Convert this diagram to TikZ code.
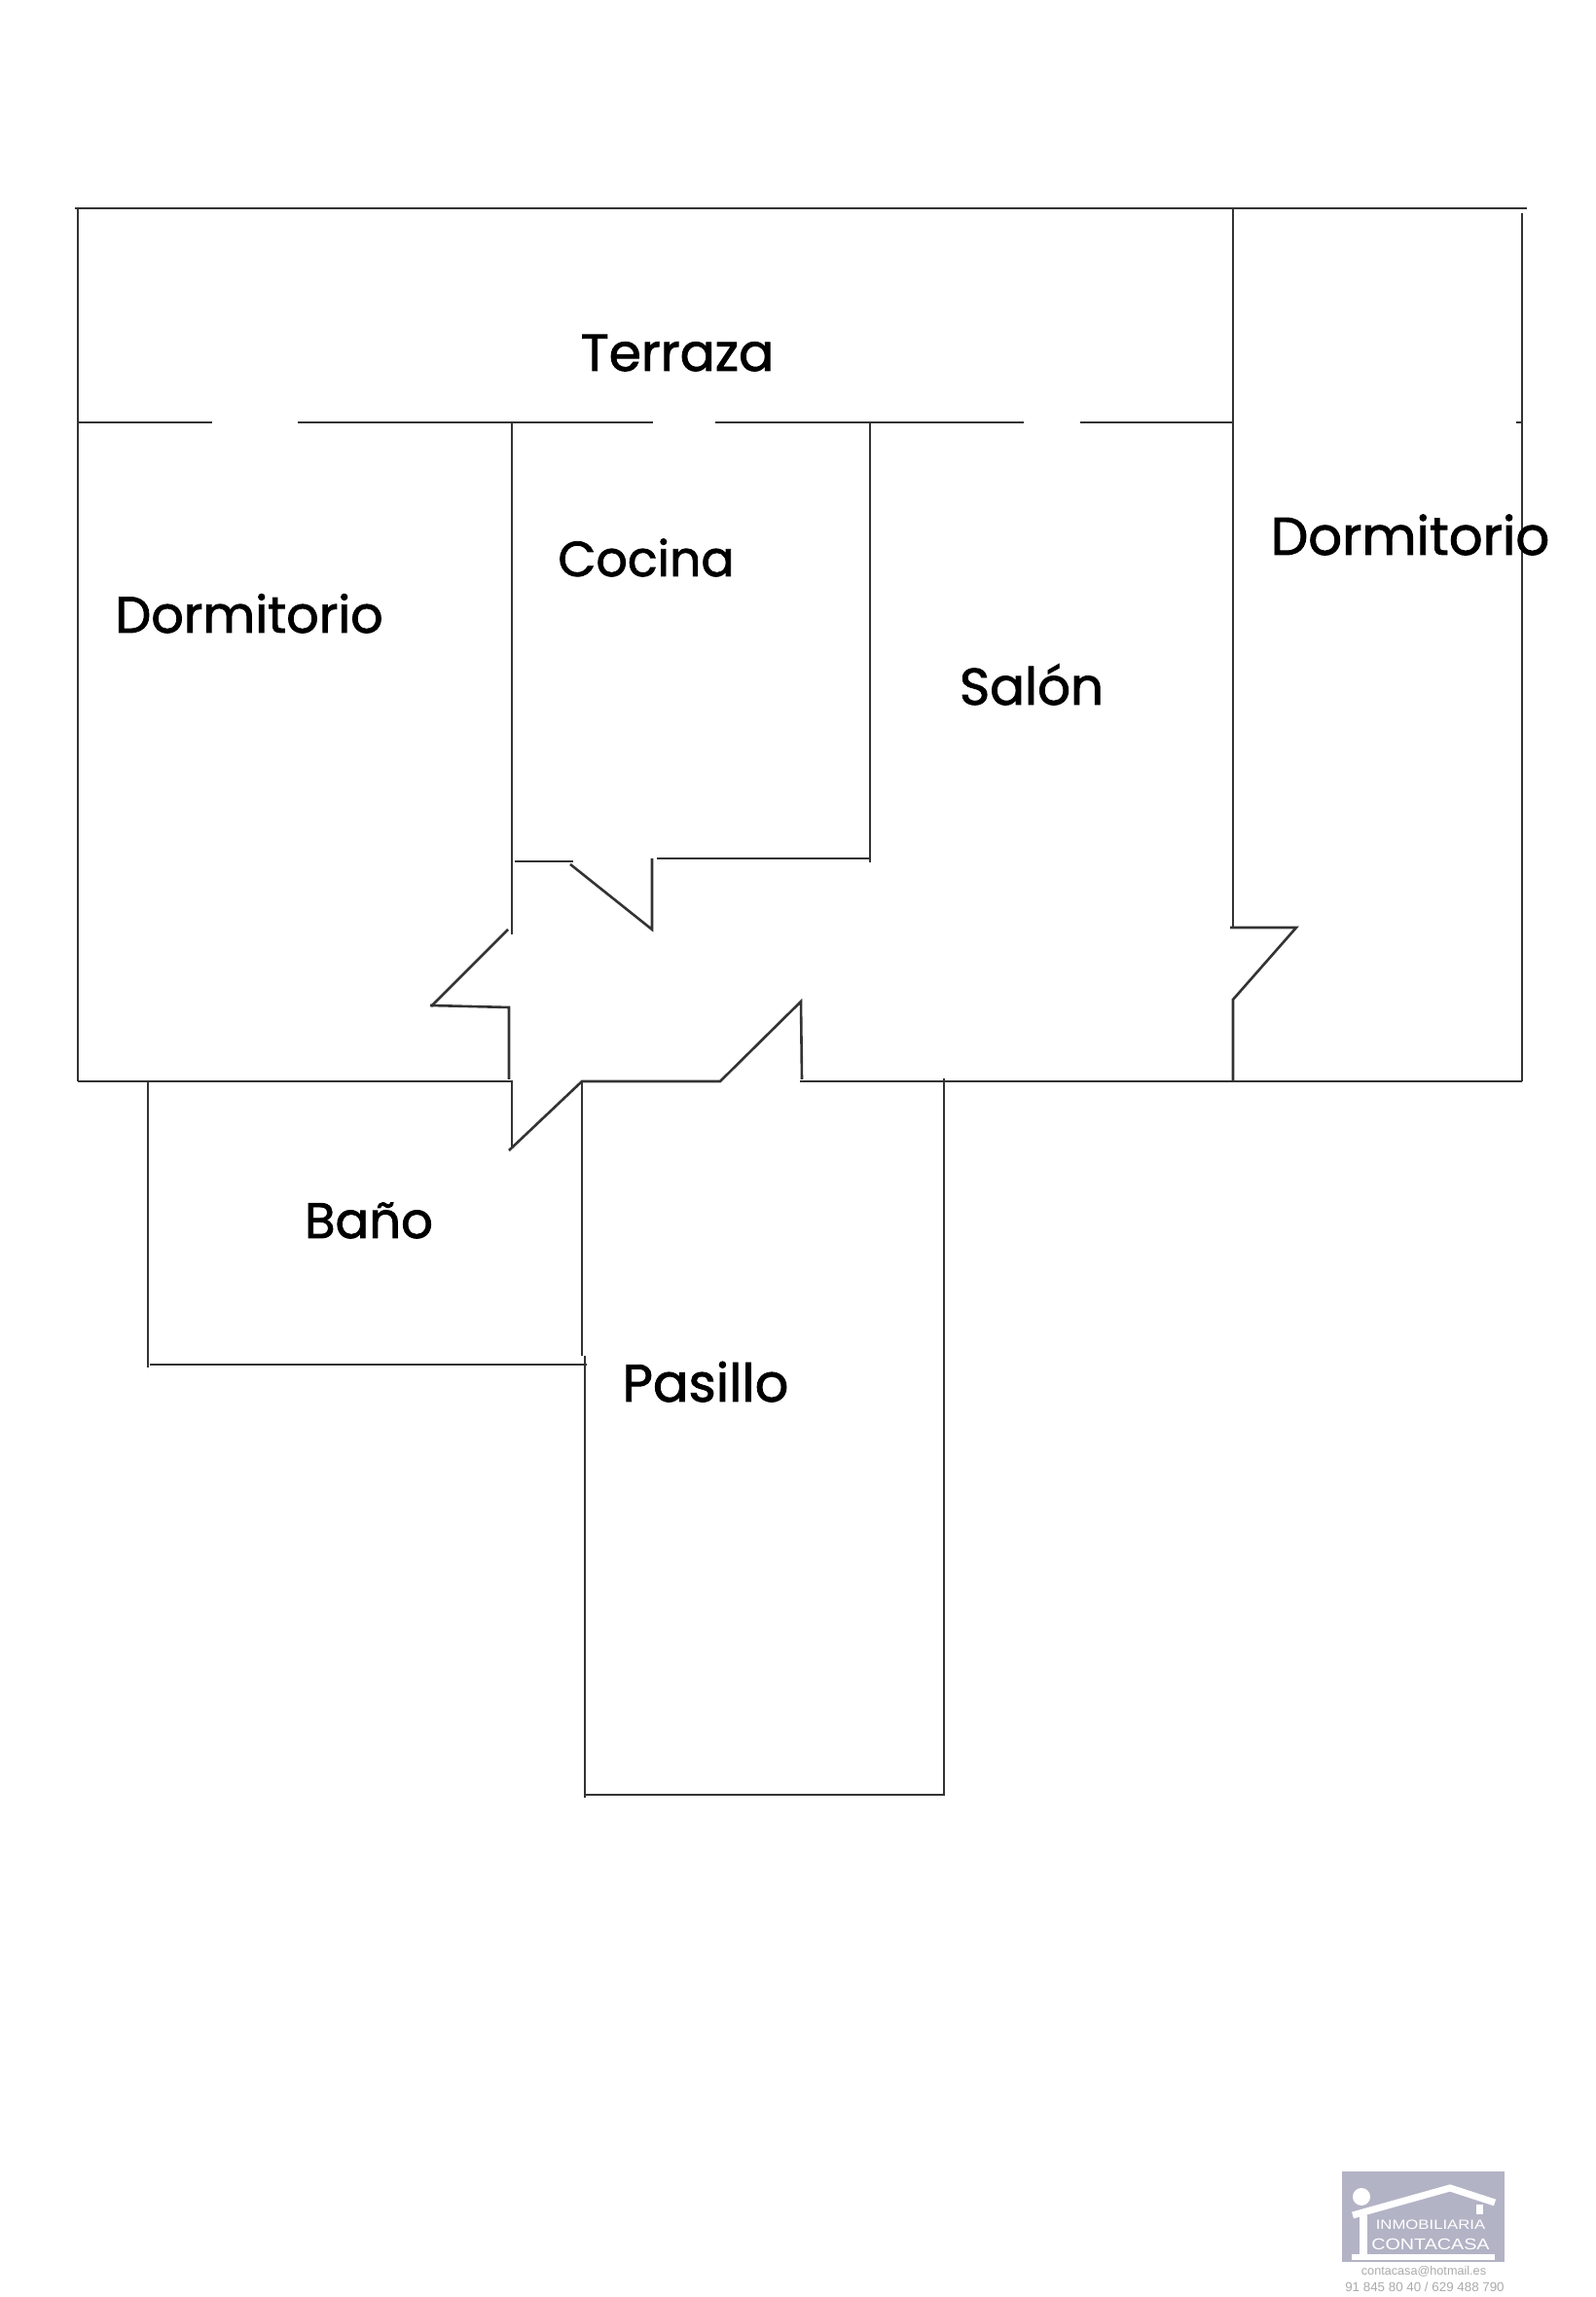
\documentclass[tikz,border=0pt]{standalone}
\usepackage{fontspec}
\newfontfamily\roomfont[FakeBold=1.6]{Poppins}
\newfontfamily\logofont[FakeStretch=1.22]{Liberation Sans}
\newfontfamily\contactfont{Liberation Sans}
\definecolor{wallgrey}{HTML}{333333}
\definecolor{logoblue}{HTML}{B3B3C6}
\definecolor{contactgrey}{HTML}{ABABAB}
\tikzset{
	wall/.style={line width=0.26mm, color=wallgrey},
	roomname/.style={anchor=base, inner sep=0pt, text=black, font=\roomfont\fontsize{#1}{18}\selectfont},
	logoline/.style={line width=0.7mm, color=white},
	logotext/.style={inner sep=0pt, text=white},
	contacttext/.style={inner sep=0pt, text=contactgrey}
}

\begin{document}
\begin{tikzpicture}
	%%%%% START %%%%%
	\useasboundingbox (0, 0.01) rectangle (16.4, 23.61);

	% terrace and outer walls
	\draw[wall] (0.77, 21.47) -- (15.69, 21.47);
	\draw[wall] (0.80, 21.47) -- (0.80, 12.50);
	\draw[wall] (15.64, 21.42) -- (15.64, 12.50);
	\draw[wall] (15.58, 19.27) -- (15.64, 19.27);
	\draw[wall] (0.80, 19.27) -- (2.18, 19.27);
	\draw[wall] (3.06, 19.27) -- (6.71, 19.27);
	\draw[wall] (7.35, 19.27) -- (10.52, 19.27);
	\draw[wall] (11.10, 19.27) -- (12.67, 19.27);

	% right bedroom with its door
	\draw[wall] (12.67, 21.47) -- (12.67, 14.08);
	\draw[wall] (12.64, 14.08) -- (13.32, 14.08) -- (12.67, 13.34) -- (12.67, 12.50);

	% kitchen
	\draw[wall] (5.26, 19.27) -- (5.26, 14.01);
	\draw[wall] (5.29, 14.76) -- (5.89, 14.76);
	\draw[wall] (5.86, 14.73) -- (6.70, 14.06) -- (6.70, 14.79);
	\draw[wall] (6.75, 14.79) -- (8.94, 14.79);
	\draw[wall] (8.94, 19.27) -- (8.94, 14.75);

	% hall doors and bottom wall
	\draw[wall] (5.22, 14.06) -- (4.43, 13.27);
	\draw[wall] (4.42, 13.28) -- (5.23, 13.26) -- (5.23, 12.52);
	\draw[wall] (0.80, 12.50) -- (5.26, 12.50) -- (5.26, 11.82);
	\draw[wall] (5.23, 11.79) -- (5.98, 12.50) -- (7.40, 12.50) -- (8.23, 13.32) -- (8.24, 12.52);
	\draw[wall] (8.22, 12.50) -- (15.64, 12.50);

	% bathroom
	\draw[wall] (1.52, 12.50) -- (1.52, 9.56);
	\draw[wall] (1.54, 9.59) -- (6.03, 9.59);

	% corridor
	\draw[wall] (5.98, 12.50) -- (5.98, 9.68);
	\draw[wall] (6.01, 9.68) -- (6.01, 5.14);
	\draw[wall] (6.01, 5.17) -- (9.70, 5.17) -- (9.70, 12.53);

	\node[roomname=15.2] (terraza) at (6.96, 19.80) {Terraza};
	\node[roomname=14.9] (dormitorioa) at (2.56, 17.11) {Dormitorio};
	\node[roomname=14.4] (cocina) at (6.64, 17.69) {Cocina};
	\node[roomname=15.1] (salon) at (10.60, 16.37) {Salón};
	\node[roomname=15.5] (dormitoriob) at (14.49, 17.91) {Dormitorio};
	\node[roomname=14.6] (bano) at (3.79, 10.89) {Baño};
	\node[roomname=15.4] (pasillo) at (7.25, 9.21) {Pasillo};

	% logo
	\fill[logoblue] (13.79, 0.37) rectangle (15.46, 1.30);
	\fill[white] (13.99, 1.04) circle (0.09);
	\draw[logoline] (13.90, 0.85) -- (14.90, 1.13) -- (15.36, 0.98);
	\fill[white] (15.17, 0.96) rectangle (15.24, 0.86);
	\fill[white] (13.97, 0.85) rectangle (14.05, 0.41);
	\fill[white] (13.89, 0.45) rectangle (15.36, 0.39);
	\node[logotext, font=\logofont\fontsize{3.9}{4}\selectfont] (inmobiliaria) at (14.70, 0.75) {INMOBILIARIA};
	\node[logotext, font=\logofont\fontsize{4.6}{5}\selectfont] (contacasa) at (14.70, 0.55) {CONTACASA};
	\node[contacttext, font=\contactfont\fontsize{3.6}{4}\selectfont] (correo) at (14.63, 0.27) {contacasa@hotmail.es};
	\node[contacttext, font=\contactfont\fontsize{3.8}{4}\selectfont] (telefono) at (14.64, 0.11) {91 845 80 40 / 629 488 790};
	%%%%% END %%%%%
\end{tikzpicture}
\end{document}
